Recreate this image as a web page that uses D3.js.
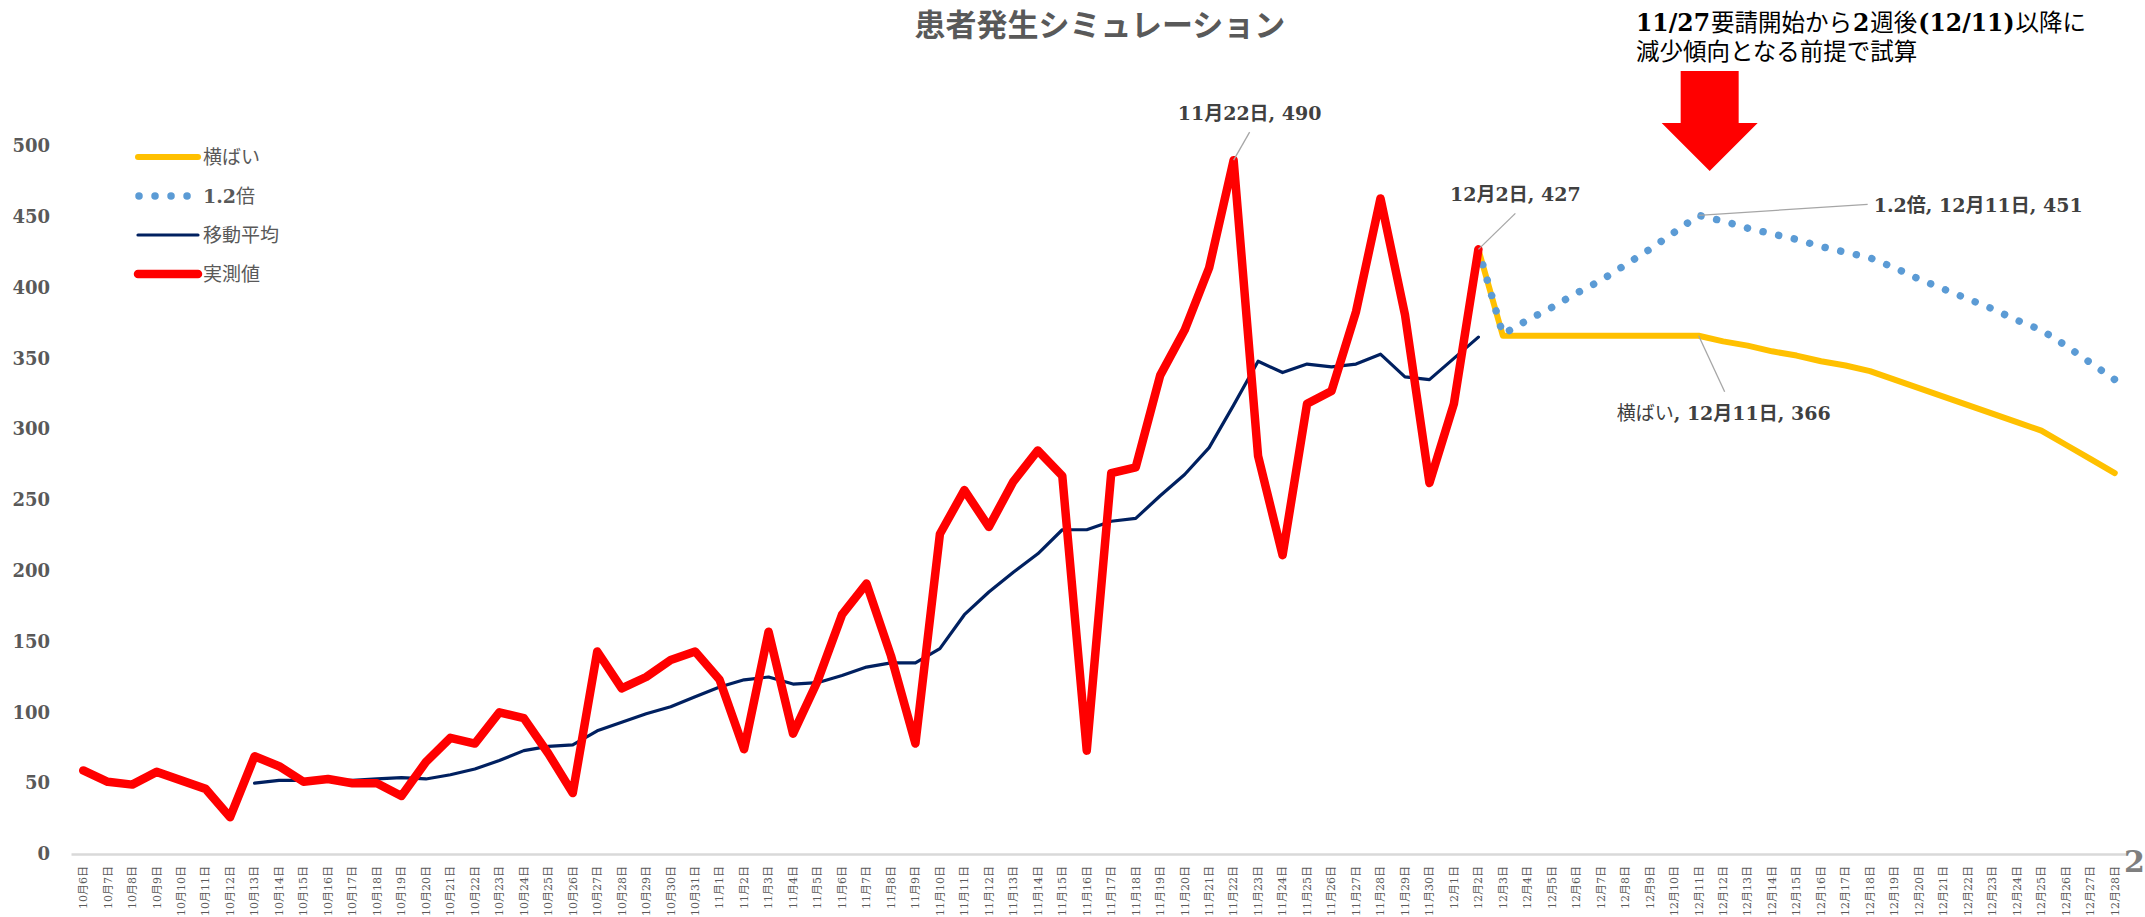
<!DOCTYPE html>
<html>
<head>
<meta charset="utf-8">
<title>患者発生シミュレーション</title>
<script src="https://cdn.jsdelivr.net/npm/d3@7"></script>
<style>
  body { margin: 0; background: #fff; }
  svg { display: block; }
  .serif { font-family: "DejaVu Serif", "Noto Sans CJK JP", serif; }
  .jp { font-family: "Noto Sans CJK JP", sans-serif; }
</style>
</head>
<body>
<div id="chart"></div>
<script>

var width = 2145, height = 917;

// categories (x axis)
var days = [
  "10月6日","10月7日","10月8日","10月9日","10月10日","10月11日","10月12日","10月13日","10月14日","10月15日",
  "10月16日","10月17日","10月18日","10月19日","10月20日","10月21日","10月22日","10月23日","10月24日","10月25日",
  "10月26日","10月27日","10月28日","10月29日","10月30日","10月31日","11月1日","11月2日","11月3日","11月4日",
  "11月5日","11月6日","11月7日","11月8日","11月9日","11月10日","11月11日","11月12日","11月13日","11月14日",
  "11月15日","11月16日","11月17日","11月18日","11月19日","11月20日","11月21日","11月22日","11月23日","11月24日",
  "11月25日","11月26日","11月27日","11月28日","11月29日","11月30日","12月1日","12月2日","12月3日","12月4日",
  "12月5日","12月6日","12月7日","12月8日","12月9日","12月10日","12月11日","12月12日","12月13日","12月14日",
  "12月15日","12月16日","12月17日","12月18日","12月19日","12月20日","12月21日","12月22日","12月23日","12月24日",
  "12月25日","12月26日","12月27日","12月28日"
];

var yTicks = [0, 50, 100, 150, 200, 250, 300, 350, 400, 450, 500];

// 実測値 from 10月6日
var actualStart = "10月6日";
var actual = [59,51,49,58,52,46,26,69,62,51,53,50,50,41,65,82,78,100,96,71,
              43,143,117,125,137,143,123,74,157,85,122,169,191,140,78,226,257,231,263,285,
              267,73,269,273,338,370,414,490,281,211,318,327,383,463,381,262,318,427];

// 移動平均 from 10月13日
var movingAvgStart = "10月13日";
var movingAvg = [50,52,52,52,52,53,54,53,56,60,66,73,76,77,87,93,99,104,111,118,
                 123,125,120,121,126,132,135,135,145,169,185,199,212,229,229,235,237,253,268,287,
                 317,348,340,346,344,346,353,337,335,350,365];

// 横ばい from 12月2日
var flatStart = "12月2日";
var flat = [427,366,366,366,366,366,366,366,366,366,
            362,359,355,352,348,345,341,335,329,323,317,311,305,299,289,279,269];

// 1.2倍 from 12月2日
var x12Start = "12月2日";
var x12 = [427,367,377,386,396,405,416,427,439,451,
           447,442,438,434,429,425,421,414,406,399,392,385,377,370,359,347,335];

var svg = d3.select("#chart").append("svg")
  .attr("width", width)
  .attr("height", height);

var x = d3.scaleBand().domain(days).range([71, 2127]).padding(0);
var y = d3.scaleLinear().domain([0, 500]).range([854, 146]);

function cx(d) { return x(d) + x.bandwidth() / 2; }

function series(start, values) {
  var s = days.indexOf(start);
  return values.map(function(v, i) { return {day: days[s + i], value: v}; });
}

var line = d3.line()
  .x(function(d) { return cx(d.day); })
  .y(function(d) { return y(d.value); });

// title
svg.append("text")
  .attr("class", "jp")
  .attr("x", 1100).attr("y", 36)
  .attr("text-anchor", "middle")
  .attr("font-size", 31).attr("font-weight", "bold")
  .attr("fill", "#595959")
  .text("患者発生シミュレーション");

// x axis
var xAxis = svg.append("g")
  .attr("transform", "translate(0,854)")
  .call(d3.axisBottom(x).tickSize(0).tickPadding(0));
xAxis.select(".domain").attr("stroke", "#d9d9d9").attr("stroke-width", 2.5);
xAxis.selectAll("text")
  .attr("class", "serif")
  .attr("font-size", 11)
  .attr("fill", "#595959")
  .attr("text-anchor", "end")
  .attr("dy", "0.35em")
  .attr("transform", "translate(0,12) rotate(-90)")
  .attr("x", 0).attr("y", 0);

// y axis labels
var yAxis = svg.append("g")
  .attr("transform", "translate(50,0)")
  .call(d3.axisLeft(y).tickValues(yTicks).tickSize(0).tickPadding(0));
yAxis.select(".domain").remove();
yAxis.selectAll("text")
  .attr("class", "serif")
  .attr("font-size", 18).attr("font-weight", "bold")
  .attr("fill", "#595959");

// lines
svg.append("path")
  .datum(series(flatStart, flat))
  .attr("d", line)
  .attr("fill", "none")
  .attr("stroke", "#FFC000").attr("stroke-width", 6)
  .attr("stroke-linejoin", "round").attr("stroke-linecap", "round");

svg.append("path")
  .datum(series(x12Start, x12))
  .attr("d", line)
  .attr("fill", "none")
  .attr("stroke", "#5B9BD5").attr("stroke-width", 7.5)
  .attr("stroke-dasharray", "0.01 16")
  .attr("stroke-linecap", "round");

svg.append("path")
  .datum(series(movingAvgStart, movingAvg))
  .attr("d", line)
  .attr("fill", "none")
  .attr("stroke", "#002060").attr("stroke-width", 3.2)
  .attr("stroke-linejoin", "round").attr("stroke-linecap", "round");

svg.append("path")
  .datum(series(actualStart, actual))
  .attr("d", line)
  .attr("fill", "none")
  .attr("stroke", "#FF0000").attr("stroke-width", 8.5)
  .attr("stroke-linejoin", "round").attr("stroke-linecap", "round");

// data labels with leader lines
function leader(day, value, dx, dy) {
  svg.append("line")
    .attr("x1", cx(day)).attr("y1", y(value))
    .attr("x2", cx(day) + dx).attr("y2", y(value) + dy)
    .attr("stroke", "#a6a6a6").attr("stroke-width", 1.3);
}

leader("11月22日", 490, 16, -28);
svg.append("text").attr("class", "serif")
  .attr("x", cx("11月22日") + 16).attr("y", y(490) - 40)
  .attr("text-anchor", "middle")
  .attr("font-size", 19).attr("font-weight", "bold").attr("fill", "#404040")
  .text("11月22日, 490");

leader("12月2日", 427, 37, -36);
svg.append("text").attr("class", "serif")
  .attr("x", cx("12月2日") + 37).attr("y", y(427) - 48)
  .attr("text-anchor", "middle")
  .attr("font-size", 19).attr("font-weight", "bold").attr("fill", "#404040")
  .text("12月2日, 427");

leader("12月11日", 451, 169, -11);
svg.append("text").attr("class", "serif")
  .attr("x", cx("12月11日") + 175).attr("y", y(451) - 3)
  .attr("font-size", 19).attr("font-weight", "bold").attr("fill", "#404040")
  .text("1.2倍, 12月11日, 451");

leader("12月11日", 366, 26, 56);
var fl = svg.append("text").attr("class", "serif")
  .attr("x", cx("12月11日") + 25).attr("y", y(366) + 84)
  .attr("text-anchor", "middle")
  .attr("font-size", 19).attr("fill", "#404040");
fl.append("tspan").attr("class", "jp").text("横ばい");
fl.append("tspan").attr("font-weight", "bold").text(", 12月11日, 366");

// legend
var legendItems = [
  {name: "横ばい", color: "#FFC000", w: 6, dash: null},
  {name: "1.2倍", color: "#5B9BD5", w: 7.5, dash: "0.01 16"},
  {name: "移動平均", color: "#002060", w: 3.2, dash: null},
  {name: "実測値", color: "#FF0000", w: 8.5, dash: null}
];
var lg = svg.append("g").attr("transform", "translate(138,157)");
legendItems.forEach(function(d, i) {
  var g = lg.append("g").attr("transform", "translate(0," + (i * 39) + ")");
  g.append("line")
    .attr("x1", d.dash ? 1 : 0).attr("x2", d.dash ? 50 : 60)
    .attr("stroke", d.color).attr("stroke-width", d.w)
    .attr("stroke-linecap", "round")
    .attr("stroke-dasharray", d.dash);
  var t = g.append("text")
    .attr("x", 65).attr("y", 7)
    .attr("font-size", 19).attr("fill", "#595959");
  if (d.name === "1.2倍") {
    t.append("tspan").attr("class", "serif").attr("font-weight", "bold").text("1.2");
    t.append("tspan").attr("class", "jp").text("倍");
  } else {
    t.attr("class", "jp").text(d.name);
  }
});

// annotation
var ax = cx("12月11日");
var a1 = svg.append("text").attr("x", 1636).attr("y", 31)
  .attr("font-size", 23.5).attr("fill", "#000");
[["11/27", true], ["要請開始から", false], ["2", true], ["週後", false],
 ["(12/11)", true], ["以降に", false]].forEach(function(p, i) {
  a1.append("tspan")
    .attr("class", p[1] ? "serif" : "jp")
    .attr("font-weight", p[1] ? "bold" : "normal")
    .attr("dx", i ? 1 : 0)
    .text(p[0]);
});
svg.append("text").attr("class", "jp")
  .attr("x", 1636).attr("y", 60)
  .attr("font-size", 23.5).attr("fill", "#000")
  .text("減少傾向となる前提で試算");

svg.append("path")
  .attr("d", d3.line()([
    [ax - 18, 71], [ax + 40, 71], [ax + 40, 123], [ax + 59, 123],
    [ax + 11, 171], [ax - 37, 123], [ax - 18, 123]
  ]) + "Z")
  .attr("fill", "#FF0000");

// page number fragment
svg.append("text").attr("class", "serif")
  .attr("x", 2124).attr("y", 872)
  .attr("font-size", 30).attr("font-weight", "bold")
  .attr("fill", "#7f7f7f")
  .text("2");

</script>
</body>
</html>
